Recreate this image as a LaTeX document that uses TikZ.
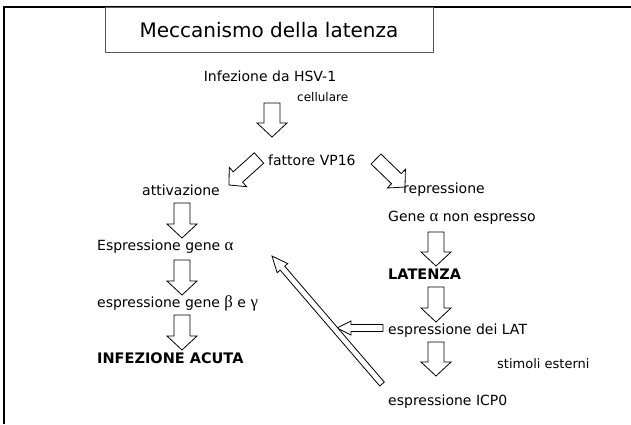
\documentclass[tikz,border=0pt]{standalone}
\usepackage{fontspec}
\setmainfont{DejaVu Sans}
\newfontfamily\greekf[Scale=1.2]{Liberation Serif}
\usetikzlibrary{calc}
\tikzset{
  txt/.style={anchor=west, inner sep=0pt, font=\fontsize{14}{16}\selectfont},
  bld/.style={anchor=west, inner sep=0pt, font=\fontsize{14.5}{16}\selectfont\bfseries},
  small/.style={anchor=west, inner sep=0pt, font=\fontsize{12}{14}\selectfont},
  blk/.style={draw=black, line width=0.8pt, fill=white, line join=miter},
}
\newcommand{\barrow}[5]{%
  \coordinate (hh) at ($(#2)!#5!(#1)$);
  \draw[blk] ($(#1)!#3!90:(#2)$) -- ($(hh)!#3!90:(#2)$) -- ($(hh)!#4!90:(#2)$) -- (#2)
    -- ($(hh)!#4!-90:(#2)$) -- ($(hh)!#3!-90:(#2)$) -- ($(#1)!#3!-90:(#2)$) -- cycle;
}
\begin{document}
\begin{tikzpicture}[x=1pt,y=-1pt]
\useasboundingbox (0,0) rectangle (631,424);
% frame
\draw[line width=2.5pt] (4,424) -- (4,7) -- (631,7);
\draw[gray!70!black, line width=0.8pt] (105,7) rectangle (433,52);
\node[inner sep=0pt, font=\fontsize{20}{24}\selectfont] (title) at (269,30) {Meccanismo della latenza};
\node[inner sep=0pt, font=\fontsize{14}{16}\selectfont] (inf) at (270,76) {Infezione da HSV-1};
\node[small] (cell) at (297,97) {cellulare};
\node[txt] (fatt) at (268,160) {fattore VP16};
\node[txt] (att) at (142,190) {attivazione};
\node[txt] (rep) at (403,190) {repressione};
\node[txt] (gna) at (388,218) {Gene {\greekf α} non espresso};
\node[txt] (ega) at (97,247) {Espressione gene {\greekf α}};
\node[txt] (egb) at (97,303) {espressione gene {\greekf β} e {\greekf γ}};
\node[bld] (acuta) at (97,358) {INFEZIONE ACUTA};
\node[bld] (lat) at (388,274) {LATENZA};
\node[txt] (elat) at (388,331) {espressione dei LAT};
\node[small, font=\fontsize{13}{15}\selectfont] (stim) at (497,364) {stimoli esterni};
\node[txt] (icp) at (388,402) {espressione ICP0};
% arrow endpoints
\coordinate (a1s) at (272,103); \coordinate (a1e) at (272,137);
\coordinate (dls) at (259,158); \coordinate (dle) at (229,185);
\coordinate (drs) at (376,159); \coordinate (dre) at (405,187);
\coordinate (l1s) at (182,203); \coordinate (l1e) at (182,238);
\coordinate (l2s) at (182,260); \coordinate (l2e) at (182,295);
\coordinate (l3s) at (182,315); \coordinate (l3e) at (182,350);
\coordinate (r1s) at (436,232); \coordinate (r1e) at (436,266);
\coordinate (r2s) at (436,287); \coordinate (r2e) at (436,322);
\coordinate (r3s) at (436,342); \coordinate (r3e) at (436,376);
\coordinate (hs) at (383,328); \coordinate (he) at (337,328);
\coordinate (ls) at (382,384); \coordinate (le) at (272,256);
\barrow{a1s}{a1e}{8pt}{15pt}{14pt}
\barrow{dls}{dle}{7pt}{13pt}{12pt}
\barrow{drs}{dre}{7pt}{13pt}{12pt}
\barrow{l1s}{l1e}{8pt}{15pt}{14pt}
\barrow{l2s}{l2e}{8pt}{15pt}{14pt}
\barrow{l3s}{l3e}{8pt}{15pt}{14pt}
\barrow{r1s}{r1e}{8pt}{15pt}{14pt}
\barrow{r2s}{r2e}{8pt}{15pt}{14pt}
\barrow{r3s}{r3e}{8pt}{15pt}{14pt}
\barrow{hs}{he}{3.5pt}{7pt}{14pt}
\barrow{ls}{le}{3pt}{7pt}{16pt}
\end{tikzpicture}
\end{document}
